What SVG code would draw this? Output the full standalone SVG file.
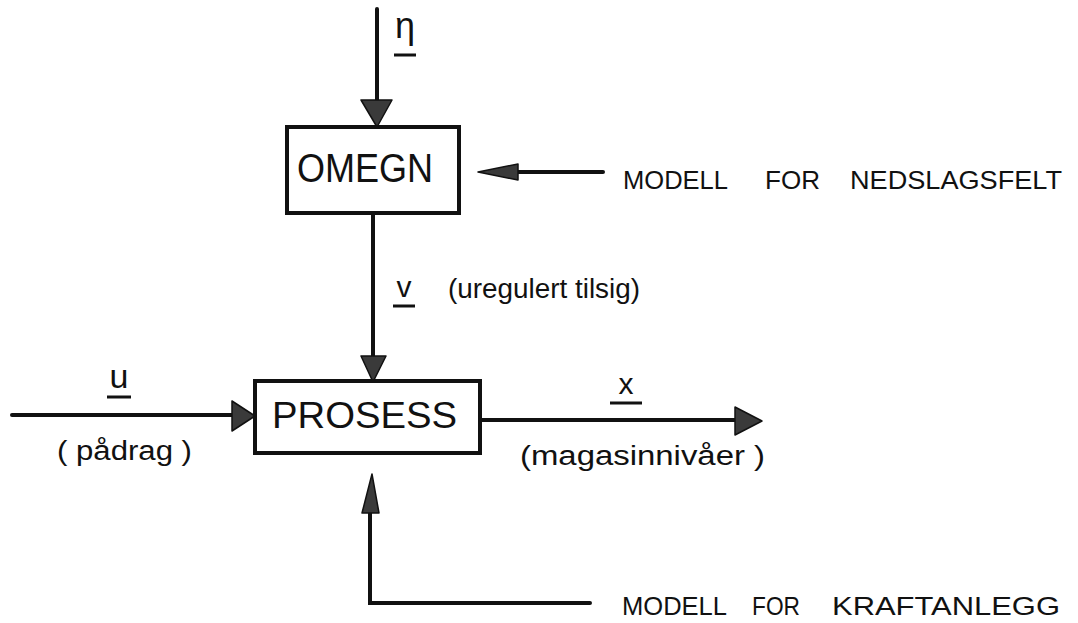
<svg xmlns="http://www.w3.org/2000/svg" width="1078" height="623" viewBox="0 0 1078 623">
<style>
.box{fill:#fff;stroke:#111;stroke-width:4}
.ln{fill:none;stroke:#111;stroke-width:4;stroke-linecap:round;stroke-linejoin:miter}
.ah{fill:#3a3a3a;stroke:#111;stroke-width:1.5;stroke-linejoin:round}
.t{font-family:"Liberation Sans",Arial,sans-serif;fill:#111}
.ul{stroke:#111;stroke-width:3}
</style>
<rect width="1078" height="623" fill="#fff"/>
<g id="connectors">
  <line class="ln" x1="377" y1="9" x2="377" y2="101"/>
  <polygon class="ah" points="361,100 392,100 377,127"/>
  <line class="ln" x1="373" y1="213" x2="373" y2="357"/>
  <polygon class="ah" points="361,356 386,356 373,382"/>
  <line class="ln" x1="12" y1="415" x2="233" y2="415"/>
  <polygon class="ah" points="232,401 232,431 255,416"/>
  <line class="ln" x1="480" y1="420" x2="736" y2="420"/>
  <polygon class="ah" points="735,407 735,435 762,421"/>
  <line class="ln" x1="603" y1="172" x2="515" y2="172"/>
  <polygon class="ah" points="518,164 518,180 478,172"/>
  <polyline class="ln" points="590,603 370,603 370,512"/>
  <polygon class="ah" points="362,513 379,513 372,474"/>
</g>
<g id="labels">
  <text class="t" x="405" y="38" font-size="36" text-anchor="middle">η</text>
  <line class="ul" x1="394" y1="55" x2="416" y2="55"/>
  <text class="t" x="404" y="297" font-size="30" text-anchor="middle">v</text>
  <line class="ul" x1="393" y1="306" x2="415" y2="306"/>
  <text class="t" x="448" y="298" font-size="27" textLength="192" lengthAdjust="spacingAndGlyphs">(uregulert tilsig)</text>
  <text class="t" x="119" y="388" font-size="34" text-anchor="middle">u</text>
  <line class="ul" x1="107" y1="397" x2="131" y2="397"/>
  <text class="t" x="57" y="460" font-size="27" textLength="135" lengthAdjust="spacingAndGlyphs">( pådrag )</text>
  <text class="t" x="626" y="394" font-size="30" text-anchor="middle">x</text>
  <line class="ul" x1="610" y1="403" x2="642" y2="403"/>
  <text class="t" x="520" y="465" font-size="27" textLength="245" lengthAdjust="spacingAndGlyphs">(magasinnivåer )</text>
</g>
<g id="omegn">
  <rect class="box" x="287" y="127" width="172" height="86"/>
  <text class="t" x="297" y="182" font-size="40" textLength="136" lengthAdjust="spacingAndGlyphs">OMEGN</text>
</g>
<g id="prosess">
  <rect class="box" x="255" y="381" width="225" height="72"/>
  <text class="t" x="272" y="428" font-size="37" textLength="185" lengthAdjust="spacingAndGlyphs">PROSESS</text>
</g>
<g id="modell-nedslagsfelt">
  <text class="t" x="623" y="189" font-size="25" textLength="105" lengthAdjust="spacingAndGlyphs">MODELL</text>
  <text class="t" x="765" y="189" font-size="25" textLength="55" lengthAdjust="spacingAndGlyphs">FOR</text>
  <text class="t" x="850" y="189" font-size="25" textLength="212" lengthAdjust="spacingAndGlyphs">NEDSLAGSFELT</text>
</g>
<g id="modell-kraftanlegg">
  <text class="t" x="622" y="615" font-size="26" textLength="105" lengthAdjust="spacingAndGlyphs">MODELL</text>
  <text class="t" x="752" y="615" font-size="26" textLength="48" lengthAdjust="spacingAndGlyphs">FOR</text>
  <text class="t" x="832" y="615" font-size="26" textLength="228" lengthAdjust="spacingAndGlyphs">KRAFTANLEGG</text>
</g>
</svg>
